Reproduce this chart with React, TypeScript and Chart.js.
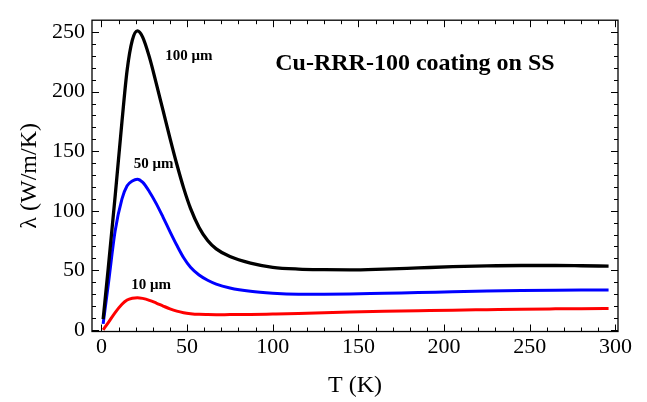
import React, { useEffect, useRef } from "react";
import { Chart, registerables } from "chart.js";

Chart.register(...registerables);

// ---- data ----
const temperatureK = [1, 4, 8, 12, 15, 18, 21, 24, 28, 32, 36, 40, 44, 48, 52, 57, 62, 67, 75, 87, 100, 115, 130, 145, 165, 185, 205, 225, 245, 265, 280, 296];
const lambda100um = [9, 52, 112, 175, 218, 243, 251, 246, 229, 207, 184, 161, 139, 119, 102, 86, 75, 68, 61.5, 56, 52.5, 51, 50.5, 50.3, 51, 52, 53, 53.7, 54, 54, 53.8, 53.5];
const lambda50um = [5, 38, 83, 110, 121, 125, 126.5, 124, 116, 106, 94.5, 82.5, 71, 60.5, 52.5, 46, 41.6, 38.4, 35.2, 32.4, 30.8, 29.9, 29.8, 30, 30.7, 31.3, 32, 32.6, 33, 33.3, 33.4, 33.4];
const lambda10um = [0, 6, 14.5, 21.5, 25, 26.5, 27, 26.4, 24.8, 22.5, 20, 17.6, 15.7, 14.4, 13.6, 13, 12.8, 12.7, 12.8, 12.9, 13.3, 13.8, 14.4, 15, 15.5, 16, 16.5, 16.9, 17.3, 17.6, 17.8, 18];

const xTickLabels = [0, 50, 100, 150, 200, 250, 300];
const yTickLabels = [0, 50, 100, 150, 200, 250];
const xMinorTicks = [0, 10, 20, 30, 40, 50, 60, 70, 80, 90, 100, 110, 120, 130, 140, 150, 160, 170, 180, 190, 200, 210, 220, 230, 240, 250, 260, 270, 280, 290, 300];
const yMinorTicks = [0, 10, 20, 30, 40, 50, 60, 70, 80, 90, 100, 110, 120, 130, 140, 150, 160, 170, 180, 190, 200, 210, 220, 230, 240, 250];

const seriesNames = ["100 μm", "50 μm", "10 μm"];
const chartTitle = "Cu-RRR-100 coating on SS";
const xAxisTitle = "T (K)";
const yAxisTitle = "λ (W/m/K)";

// label anchors in data units (T, λ)
const labelAnchors = [
  { text: seriesNames[0], t: 51, v: 230 },
  { text: seriesNames[1], t: 30.5, v: 139 },
  { text: seriesNames[2], t: 29, v: 37.5 },
];
const titleAnchor = { t: 183, v: 223.5 };

const FONT = "'Liberation Serif', 'Times New Roman', serif";

const framePlugin = {
  id: "frameTicks",
  afterDraw(chart: any) {
    const { ctx, chartArea: a, scales } = chart;
    const xs = scales.x;
    const ys = scales.y;
    ctx.save();
    ctx.strokeStyle = "#000";
    ctx.lineWidth = 1.3;
    ctx.strokeRect(a.left, a.top, a.right - a.left, a.bottom - a.top);
    ctx.lineWidth = 1;
    ctx.beginPath();
    for (const t of xMinorTicks) {
      const px = Math.round(xs.getPixelForValue(t)) + 0.5;
      const len = xTickLabels.includes(t) ? 7 : 4;
      ctx.moveTo(px, a.bottom);
      ctx.lineTo(px, a.bottom - len);
      ctx.moveTo(px, a.top);
      ctx.lineTo(px, a.top + len);
    }
    for (const v of yMinorTicks) {
      const py = Math.round(ys.getPixelForValue(v)) + 0.5;
      const len = yTickLabels.includes(v) ? 7 : 4;
      ctx.moveTo(a.left, py);
      ctx.lineTo(a.left + len, py);
      ctx.moveTo(a.right, py);
      ctx.lineTo(a.right - len, py);
    }
    ctx.stroke();

    ctx.fillStyle = "#000";
    ctx.textAlign = "center";
    ctx.textBaseline = "middle";
    ctx.font = `bold 15px ${FONT}`;
    for (const l of labelAnchors) {
      ctx.fillText(l.text, xs.getPixelForValue(l.t), ys.getPixelForValue(l.v));
    }
    ctx.font = `bold 24px ${FONT}`;
    ctx.fillText(chartTitle, xs.getPixelForValue(titleAnchor.t), ys.getPixelForValue(titleAnchor.v));
    ctx.restore();
  },
};

function toPoints(values: number[]) {
  return temperatureK.map((t, i) => ({ x: t, y: values[i] }));
}

export default function App() {
  const ref = useRef<HTMLCanvasElement | null>(null);

  useEffect(() => {
    document.body.style.margin = "0";
    const canvas = ref.current;
    if (!canvas) return;
    const common = {
      pointRadius: 0,
      borderWidth: 3,
      fill: false,
      cubicInterpolationMode: "monotone" as const,
    };
    const chart = new Chart(canvas, {
      type: "line",
      data: {
        datasets: [
          { label: seriesNames[0], data: toPoints(lambda100um), borderColor: "#000000", ...common, borderWidth: 3.3 },
          { label: seriesNames[1], data: toPoints(lambda50um), borderColor: "#0000ff", ...common },
          { label: seriesNames[2], data: toPoints(lambda10um), borderColor: "#ff0000", ...common },
        ],
      },
      options: {
        animation: false,
        responsive: false,
        devicePixelRatio: 1,
        layout: { padding: { top: 6, right: 29, left: 0, bottom: 0 } },
        plugins: { legend: { display: false }, tooltip: { enabled: false } },
        scales: {
          x: {
            type: "linear",
            min: -5.5,
            max: 301.5,
            afterBuildTicks: (s: any) => {
              s.ticks = xTickLabels.map((v) => ({ value: v }));
            },
            afterFit: (s: any) => {
              s.height = 70.5;
            },
            grid: { display: false, drawTicks: false },
            border: { display: false },
            ticks: {
              color: "#000",
              font: { family: FONT, size: 22 },
              padding: 3,
              maxRotation: 0,
              autoSkip: false,
            },
            title: {
              display: true,
              text: xAxisTitle,
              color: "#000",
              font: { family: FONT, size: 24 },
              padding: { top: 0, bottom: 2 },
            },
          },
          y: {
            type: "linear",
            min: -1.4,
            max: 260,
            afterBuildTicks: (s: any) => {
              s.ticks = yTickLabels.map((v) => ({ value: v }));
            },
            afterFit: (s: any) => {
              s.width = 92;
            },
            grid: { display: false, drawTicks: false },
            border: { display: false },
            ticks: {
              color: "#000",
              font: { family: FONT, size: 22 },
              padding: 7,
              autoSkip: false,
            },
            title: {
              display: true,
              text: yAxisTitle,
              color: "#000",
              font: { family: FONT, size: 24 },
              padding: { top: 15, bottom: 0 },
            },
          },
        },
      },
      plugins: [framePlugin],
    });
    return () => chart.destroy();
  }, []);

  return <canvas ref={ref} width={647} height={402} style={{ display: "block" }} />;
}
